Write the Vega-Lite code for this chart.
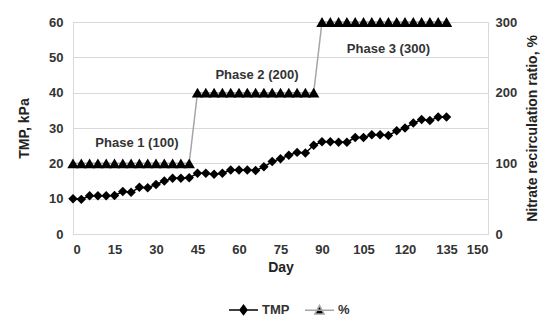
{
  "$schema": "https://vega.github.io/schema/vega-lite/v6.json",
  "width": 415,
  "height": 212,
  "autosize": "none",
  "padding": {"left": 73, "top": 22, "right": 62, "bottom": 96},
  "background": "white",
  "config": {
    "font": "Liberation Sans",
    "view": {"stroke": "#d9d9d9"},
    "axis": {
      "labelFont": "Liberation Sans",
      "labelFontWeight": "bold",
      "labelFontSize": 13,
      "labelColor": "#333333",
      "titleFont": "Liberation Sans",
      "titleFontWeight": "bold",
      "titleFontSize": 14,
      "titleColor": "#222222",
      "domainColor": "#d9d9d9",
      "gridColor": "#d9d9d9",
      "ticks": false
    }
  },
  "datasets": {
    "tmp": [
      {"day": 0, "TMP": 10}, {"day": 3, "TMP": 9.8}, {"day": 6, "TMP": 10.8}, {"day": 9, "TMP": 10.8},
      {"day": 12, "TMP": 10.8}, {"day": 15, "TMP": 10.9}, {"day": 18, "TMP": 12}, {"day": 21, "TMP": 11.8},
      {"day": 24, "TMP": 13.2}, {"day": 27, "TMP": 13.1}, {"day": 30, "TMP": 14}, {"day": 33, "TMP": 15},
      {"day": 36, "TMP": 15.8}, {"day": 39, "TMP": 15.8}, {"day": 42, "TMP": 15.9}, {"day": 45, "TMP": 17.2},
      {"day": 48, "TMP": 17.2}, {"day": 51, "TMP": 16.9}, {"day": 54, "TMP": 17.2}, {"day": 57, "TMP": 18.1},
      {"day": 60, "TMP": 18.1}, {"day": 63, "TMP": 18.1}, {"day": 66, "TMP": 18}, {"day": 69, "TMP": 19},
      {"day": 72, "TMP": 20.5}, {"day": 75, "TMP": 21.3}, {"day": 78, "TMP": 22.3}, {"day": 81, "TMP": 23.1},
      {"day": 84, "TMP": 22.9}, {"day": 87, "TMP": 25.1}, {"day": 90, "TMP": 26.1}, {"day": 93, "TMP": 26.1},
      {"day": 96, "TMP": 26}, {"day": 99, "TMP": 26}, {"day": 102, "TMP": 27.3}, {"day": 105, "TMP": 27.3},
      {"day": 108, "TMP": 28.1}, {"day": 111, "TMP": 28.1}, {"day": 114, "TMP": 27.9}, {"day": 117, "TMP": 29.2},
      {"day": 120, "TMP": 30}, {"day": 123, "TMP": 31.4}, {"day": 126, "TMP": 32.4}, {"day": 129, "TMP": 32.1},
      {"day": 132, "TMP": 33.1}, {"day": 135, "TMP": 33.1}
    ],
    "ratio": [
      {"day": 0, "ratio": 100}, {"day": 3, "ratio": 100}, {"day": 6, "ratio": 100}, {"day": 9, "ratio": 100},
      {"day": 12, "ratio": 100}, {"day": 15, "ratio": 100}, {"day": 18, "ratio": 100}, {"day": 21, "ratio": 100},
      {"day": 24, "ratio": 100}, {"day": 27, "ratio": 100}, {"day": 30, "ratio": 100}, {"day": 33, "ratio": 100},
      {"day": 36, "ratio": 100}, {"day": 39, "ratio": 100}, {"day": 42, "ratio": 100},
      {"day": 45, "ratio": 200}, {"day": 48, "ratio": 200}, {"day": 51, "ratio": 200}, {"day": 54, "ratio": 200},
      {"day": 57, "ratio": 200}, {"day": 60, "ratio": 200}, {"day": 63, "ratio": 200}, {"day": 66, "ratio": 200},
      {"day": 69, "ratio": 200}, {"day": 72, "ratio": 200}, {"day": 75, "ratio": 200}, {"day": 78, "ratio": 200},
      {"day": 81, "ratio": 200}, {"day": 84, "ratio": 200}, {"day": 87, "ratio": 200},
      {"day": 90, "ratio": 300}, {"day": 93, "ratio": 300}, {"day": 96, "ratio": 300}, {"day": 99, "ratio": 300},
      {"day": 102, "ratio": 300}, {"day": 105, "ratio": 300}, {"day": 108, "ratio": 300}, {"day": 111, "ratio": 300},
      {"day": 114, "ratio": 300}, {"day": 117, "ratio": 300}, {"day": 120, "ratio": 300}, {"day": 123, "ratio": 300},
      {"day": 126, "ratio": 300}, {"day": 129, "ratio": 300}, {"day": 132, "ratio": 300}, {"day": 135, "ratio": 300}
    ],
    "labels": [
      {"day": 23.1, "TMP": 25.8, "label": "Phase 1 (100)"},
      {"day": 66.5, "TMP": 45.0, "label": "Phase 2 (200)"},
      {"day": 114, "TMP": 52.5, "label": "Phase 3 (300)"}
    ]
  },
  "encoding": {
    "x": {
      "field": "day", "type": "quantitative",
      "scale": {"domain": [0, 150], "nice": false},
      "axis": {"title": "Day", "values": [0, 15, 30, 45, 60, 75, 90, 105, 120, 135, 150], "grid": false, "labelPadding": 9, "titlePadding": 4}
    }
  },
  "layer": [
    {
      "encoding": {
        "y": {
          "field": "TMP", "type": "quantitative",
          "scale": {"domain": [0, 60], "nice": false},
          "axis": {"title": "TMP, kPa", "orient": "left", "values": [0, 10, 20, 30, 40, 50, 60], "grid": true, "labelPadding": 10, "titlePadding": 17}
        }
      },
      "layer": [
        {
          "data": {"name": "tmp"},
          "mark": {"type": "line", "strokeWidth": 1.5},
          "encoding": {
            "color": {
              "datum": "TMP",
              "scale": {"domain": ["TMP", "%"], "range": ["#000000", "#a6a6a6"]},
              "legend": {
                "title": null,
                "orient": "none",
                "direction": "horizontal",
                "legendX": 155,
                "legendY": 272,
                "symbolSize": 841,
                "symbolStrokeWidth": 1.5,
                "labelFont": "Liberation Sans",
                "labelFontWeight": "bold",
                "labelFontSize": 13,
                "labelColor": "#333333",
                "labelOffset": 3,
                "columnPadding": 12,
                "encode": {
                  "symbols": {
                    "update": {
                      "shape": {"signal": "datum.value === 'TMP' ? 'M-1,0H1M0,-0.32L0.24,0L0,0.32L-0.24,0Z' : 'M-1,0H1M0,-0.32L0.32,0.26H-0.32Z'"},
                      "fill": {"value": "#000000"}
                    }
                  }
                }
              }
            }
          }
        },
        {
          "data": {"name": "tmp"},
          "mark": {"type": "point", "shape": "diamond", "filled": true, "size": 90, "color": "#000000", "opacity": 1}
        },
        {
          "data": {"name": "labels"},
          "mark": {"type": "text", "font": "Liberation Sans", "fontWeight": "bold", "fontSize": 13, "color": "#333333", "align": "center", "baseline": "middle"},
          "encoding": {"text": {"field": "label"}}
        }
      ]
    },
    {
      "encoding": {
        "y": {
          "field": "ratio", "type": "quantitative",
          "scale": {"domain": [0, 300], "nice": false},
          "axis": {"title": "Nitrate recirculation ratio, %", "orient": "right", "values": [0, 100, 200, 300], "grid": false, "labelPadding": 7, "titlePadding": 23, "titleAngle": -90}
        }
      },
      "layer": [
        {
          "data": {"name": "ratio"},
          "mark": {"type": "line", "strokeWidth": 1.5},
          "encoding": {"color": {"datum": "%"}}
        },
        {
          "data": {"name": "ratio"},
          "mark": {"type": "point", "shape": "triangle-up", "filled": true, "size": 130, "color": "#000000", "opacity": 1}
        }
      ]
    }
  ],
  "resolve": {"scale": {"y": "independent"}}
}
